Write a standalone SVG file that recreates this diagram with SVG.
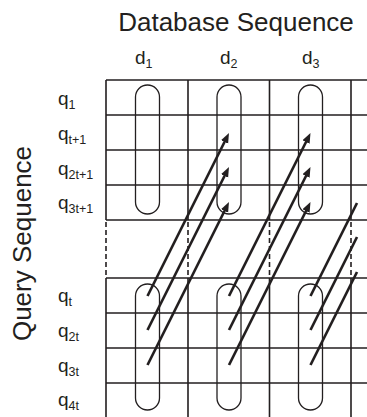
<svg xmlns="http://www.w3.org/2000/svg" width="367" height="417" viewBox="0 0 367 417">
<style>
text{font-family:"Liberation Sans",Arial,sans-serif;fill:#231f20}
.t{font-size:26px}
.l{font-size:19px}
.s{font-size:12.5px}
.g{stroke:#231f20;stroke-width:1.6;fill:none}
.d{stroke:#231f20;stroke-width:1.6;stroke-dasharray:5 3;fill:none}
.c{stroke:#231f20;stroke-width:1.3;fill:none}
.a{stroke:#231f20;stroke-width:2.7;fill:none}
</style>
<defs>
<marker id="ah" markerUnits="userSpaceOnUse" markerWidth="11" markerHeight="9" refX="5" refY="4" orient="auto">
<path d="M0,0 L10,4 L0,8 Z" fill="#231f20"/>
</marker>
</defs>
<rect width="367" height="417" fill="#fff"/>
<g id="titles">
<text class="t" x="236" y="31" text-anchor="middle">Database Sequence</text>
<text class="t" transform="translate(31,243.5) rotate(-90)" text-anchor="middle">Query Sequence</text>
</g>
<g id="grid">
<path class="g" d="M106,80H367M106,115H367M106,150H367M106,185H367M106,220H367M106,278H367M106,313H367M106,348H367M106,383H367"/>
<path class="g" d="M106,80V220M188,80V220M269.5,80V220M351,80V220M106,278V417M188,278V417M269.5,278V417M351,278V417"/>
<path class="d" d="M106,222V278M188,222V278M269.5,222V278M351,222V278"/>
</g>
<g id="col-labels">
<text class="l" x="135" y="64">d<tspan class="s" dy="4">1</tspan></text>
<text class="l" x="220" y="64">d<tspan class="s" dy="4">2</tspan></text>
<text class="l" x="302" y="64">d<tspan class="s" dy="4">3</tspan></text>
</g>
<g id="row-labels">
<text class="l" x="58" y="105">q<tspan class="s" dy="4">1</tspan></text>
<text class="l" x="58" y="140">q<tspan class="s" dy="4">t+1</tspan></text>
<text class="l" x="58" y="175">q<tspan class="s" dy="4">2t+1</tspan></text>
<text class="l" x="58" y="209">q<tspan class="s" dy="4">3t+1</tspan></text>
<text class="l" x="58" y="302">q<tspan class="s" dy="4">t</tspan></text>
<text class="l" x="58" y="337">q<tspan class="s" dy="4">2t</tspan></text>
<text class="l" x="58" y="372">q<tspan class="s" dy="4">3t</tspan></text>
<text class="l" x="58" y="406">q<tspan class="s" dy="4">4t</tspan></text>
</g>
<g id="d1-top"><rect class="c" x="135.5" y="85" width="24" height="129" rx="12"/></g>
<g id="d2-top"><rect class="c" x="217" y="85" width="24" height="129" rx="12"/></g>
<g id="d3-top"><rect class="c" x="298.5" y="85" width="24" height="129" rx="12"/></g>
<g id="d1-bottom"><rect class="c" x="135.5" y="284" width="24" height="126" rx="12"/></g>
<g id="d2-bottom"><rect class="c" x="217" y="284" width="24" height="126" rx="12"/></g>
<g id="d3-bottom"><rect class="c" x="298.5" y="284" width="24" height="126" rx="12"/></g>
<g id="connectors">
<line class="a" x1="147.5" y1="296" x2="226.75" y2="137.5" marker-end="url(#ah)"/>
<line class="a" x1="147.5" y1="330" x2="226.75" y2="171.5" marker-end="url(#ah)"/>
<line class="a" x1="147.5" y1="365" x2="226.75" y2="206.5" marker-end="url(#ah)"/>
<line class="a" x1="229" y1="296" x2="308.25" y2="137.5" marker-end="url(#ah)"/>
<line class="a" x1="229" y1="330" x2="308.25" y2="171.5" marker-end="url(#ah)"/>
<line class="a" x1="229" y1="365" x2="308.25" y2="206.5" marker-end="url(#ah)"/>
<line class="a" x1="310.5" y1="296" x2="357" y2="203"/>
<line class="a" x1="310.5" y1="330" x2="357" y2="237"/>
<line class="a" x1="310.5" y1="365" x2="357" y2="272"/>
</g>
</svg>
